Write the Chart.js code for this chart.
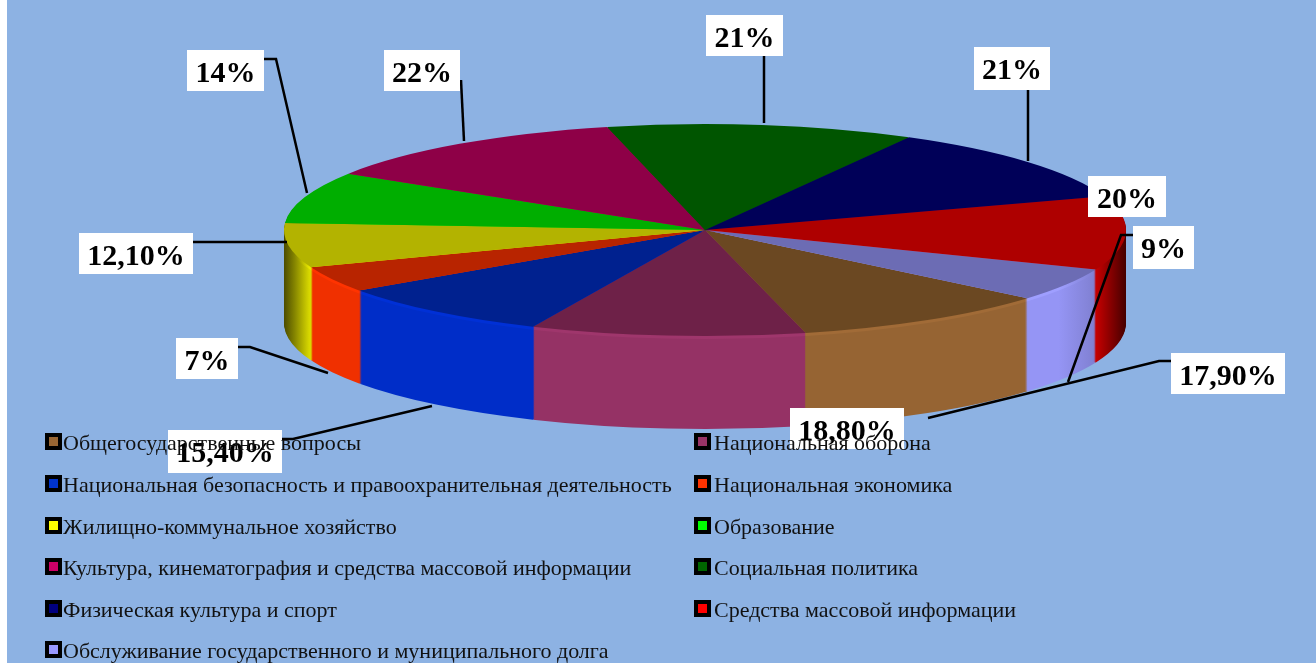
<!DOCTYPE html>
<html>
<head>
<meta charset="utf-8">
<title>Расходы бюджета</title>
<script src="https://cdn.jsdelivr.net/npm/chart.js@4"></script>
<style>
    html, body { margin: 0; padding: 0; background: #fff; overflow: hidden; }
    canvas { display: block; }
</style>
</head>
<body>
<canvas id="chart1" width="1316" height="663"></canvas>
<script>
const categories = [
    'Общегосударственные вопросы',
    'Национальная оборона',
    'Национальная безопасность и правоохранительная деятельность',
    'Национальная экономика',
    'Жилищно-коммунальное хозяйство',
    'Образование',
    'Культура, кинематография и средства массовой информации',
    'Социальная политика',
    'Физическая культура и спорт',
    'Средства массовой информации',
    'Обслуживание государственного и муниципального долга'
];
const values = [17.9, 18.8, 15.4, 7, 12.1, 14, 22, 21, 21, 20, 9];
const value_labels = ['17,90%', '18,80%', '15,40%', '7%', '12,10%', '14%', '22%', '21%', '21%', '20%', '9%'];
const legend_colors = ['#996633', '#993366', '#0033cc', '#ff3300', '#ffff00', '#00ff00', '#cc0066', '#006600', '#000080', '#ff0000', '#9999ff'];
const top_colors = ['#6b4822', '#6e2148', '#00218f', '#b82400', '#b3b300', '#00ae00', '#8e0047', '#005500', '#000058', '#ae0000', '#6c6cb4'];
const side_colors = ['#966433', '#953265', '#002dc8', '#f03000', '#d8d800', '#00d000', '#c00060', '#006000', '#000078', '#e60000', '#9595f5'];

// pixel layout of the 3d pie
const pie_cx = 705, pie_cy = 230, pie_rx = 421, pie_ry = 106, pie_depth = 93;

// label boxes and leader lines, same order as categories
const callouts = [
    {box: [1171, 353, 114, 41], line: [[1171, 361], [1159, 361], [928, 418]]},
    {box: [790, 408, 114, 41], line: []},
    {box: [168, 430, 114, 43], line: [[282, 439], [293, 439], [432, 406]]},
    {box: [176, 338, 62, 41], line: [[238, 347], [250, 347], [328, 373]]},
    {box: [79, 233, 114, 41], line: [[193, 242], [287, 242]]},
    {box: [187, 50, 77, 41], line: [[264, 59], [276, 59], [307, 193]]},
    {box: [384, 50, 76, 41], line: [[461, 80], [464, 141]]},
    {box: [706, 15, 77, 41], line: [[764, 56], [764, 123]]},
    {box: [974, 47, 76, 43], line: [[1028, 90], [1028, 161]]},
    {box: [1088, 176, 78, 41], line: []},
    {box: [1133, 226, 61, 43], line: [[1133, 235], [1121, 235], [1068, 382]]}
];

// legend rows: [swatch x, swatch y, text x] of each entry
const legend_pos = [
    [45, 433, 63], [694, 433, 714],
    [45, 475, 63], [694, 475, 714],
    [45, 517, 63], [694, 517, 714],
    [45, 558, 63], [694, 558, 714],
    [45, 600, 63], [694, 600, 714],
    [45, 641, 63]
];

function mix(hex, f){
    let r = parseInt(hex.slice(1, 3), 16);
    let g = parseInt(hex.slice(3, 5), 16);
    let b = parseInt(hex.slice(5, 7), 16);
    return 'rgb(' + Math.min(255, Math.round(r * f)) + ',' + Math.min(255, Math.round(g * f)) + ',' + Math.min(255, Math.round(b * f)) + ')';
}

const background = {
    id: 'background',
    beforeDraw(chart) {
        const ctx = chart.ctx;
        ctx.save();
        ctx.fillStyle = '#ffffff';
        ctx.fillRect(0, 0, 7, 663);
        ctx.fillStyle = '#8db2e3';
        ctx.fillRect(7, 0, 1309, 663);
        ctx.restore();
    }
};

// squash the pie into an ellipse and stack its arcs downwards for the side wall
const pie3d = {
    id: 'pie3d',
    beforeDatasetsDraw(chart) {
        const ctx = chart.ctx;
        const arcs = chart.getDatasetMeta(0).data;
        const k = pie_ry / pie_rx;
        ctx.save();
        ctx.translate(pie_cx, pie_cy);
        ctx.scale(1, k);
        ctx.translate(-arcs[0].x, -arcs[0].y);

        const x0 = arcs[0].x - pie_rx, x1 = arcs[0].x + pie_rx;
        function wall_gradient(c, f) {
            let g = ctx.createLinearGradient(x0, 0, x1, 0);
            g.addColorStop(0, mix(c, 0.35));
            g.addColorStop(0.012, mix(c, 0.6));
            g.addColorStop(0.03, mix(c, f));
            g.addColorStop(0.92, mix(c, f));
            g.addColorStop(0.965, mix(c, 0.85));
            g.addColorStop(1, mix(c, 0.3));
            return g;
        }
        const walls = side_colors.map(function(c) { return wall_gradient(c, 1); });
        const rims = side_colors.map(function(c) { return wall_gradient(c, 1.07); });

        for (let d = pie_depth; d >= 1; d--) {
            ctx.save();
            ctx.translate(0, d / k);
            arcs.forEach(function(arc, i) {
                const saved = arc.options;
                arc.options = Object.assign({}, saved, {backgroundColor: d <= 3 ? rims[i] : walls[i], borderWidth: 0});
                arc.draw(ctx);
                arc.options = saved;
            });
            ctx.restore();
        }
    },
    afterDatasetsDraw(chart) {
        chart.ctx.restore();
    }
};

const labels_plugin = {
    id: 'labels_plugin',
    afterDraw(chart) {
        const ctx = chart.ctx;
        ctx.save();

        ctx.strokeStyle = '#000';
        ctx.lineWidth = 2.5;
        callouts.forEach(function(c) {
            if (c.line.length == 0) return;
            ctx.beginPath();
            c.line.forEach(function(p, i) {
                if (i == 0) ctx.moveTo(p[0], p[1]);
                else ctx.lineTo(p[0], p[1]);
            });
            ctx.stroke();
        });

        ctx.font = 'bold 30px "Liberation Serif"';
        ctx.textAlign = 'center';
        ctx.textBaseline = 'alphabetic';
        callouts.forEach(function(c, i) {
            const b = c.box;
            ctx.fillStyle = '#fff';
            ctx.fillRect(b[0], b[1], b[2], b[3]);
            ctx.fillStyle = '#000';
            ctx.fillText(value_labels[i], b[0] + b[2] / 2, b[1] + 31.5);
        });

        ctx.font = '22px "Liberation Serif"';
        ctx.textAlign = 'left';
        categories.forEach(function(name, i) {
            const p = legend_pos[i];
            ctx.fillStyle = '#000';
            ctx.fillRect(p[0], p[1], 17, 17);
            ctx.fillStyle = legend_colors[i];
            ctx.fillRect(p[0] + 4, p[1] + 4, 9, 9);
            ctx.fillStyle = '#111';
            ctx.fillText(name, p[2], p[1] + 17);
        });
        ctx.restore();
    }
};

const chart1_cfg = {
    type: 'pie',
    data: {
        labels: categories,
        datasets: [{
            data: values,
            backgroundColor: top_colors,
            borderWidth: 0,
            clip: false
        }]
    },
    options: {
        responsive: false,
        animation: false,
        rotation: 130,
        radius: pie_rx,
        plugins: {
            legend: { display: false },
            tooltip: { enabled: false }
        }
    },
    plugins: [background, pie3d, labels_plugin]
};

const chart1_ctx = document.getElementById('chart1').getContext('2d');
let chart1 = new Chart(chart1_ctx, chart1_cfg);
</script>
</body>
</html>
